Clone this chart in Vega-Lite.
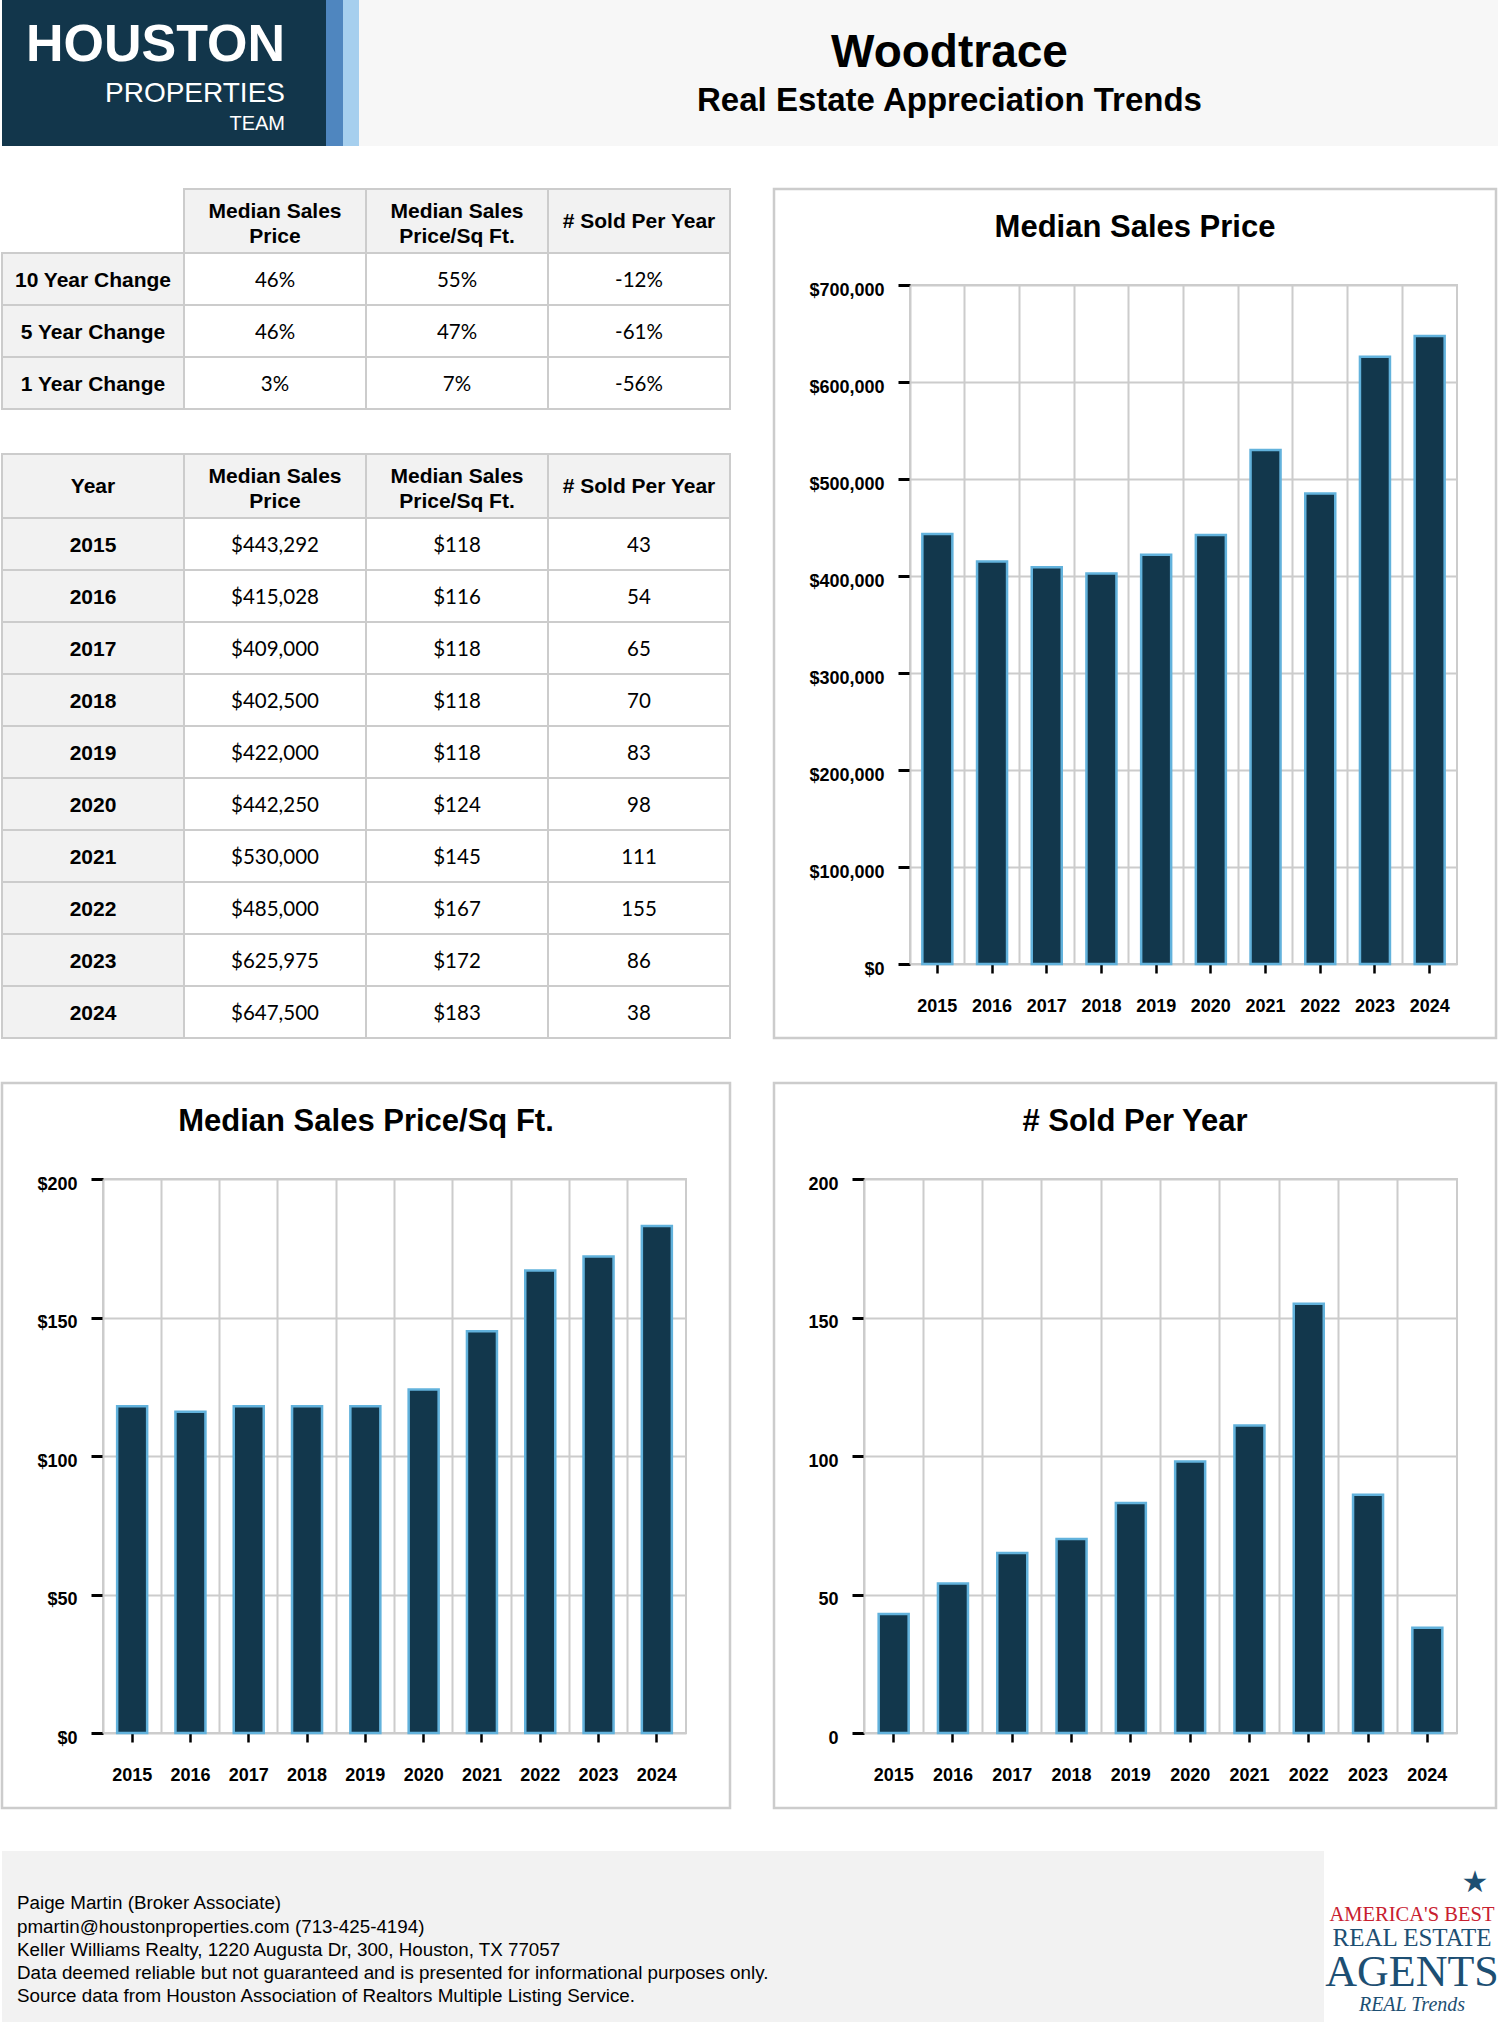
{
 "$schema": "https://vega.github.io/schema/vega-lite/v6.json",
 "padding": 0,
 "background": "#ffffff",
 "spacing": 41,
 "config": {
  "view": {"stroke": null},
  "font": "Liberation Sans",
  "axis": {"labelFont": "Liberation Sans", "labelFontSize": 18, "labelFontWeight": "bold", "labelColor": "#000000", "tickColor": "#000000", "gridColor": "#cccccc", "gridWidth": 2, "labelFlush": false, "labelOverlap": false, "domain": false}
 },
 "datasets": {
  "yearly": [
   {"Year": 2015, "price": 443292, "ppsf": 118, "sold": 43},
   {"Year": 2016, "price": 415028, "ppsf": 116, "sold": 54},
   {"Year": 2017, "price": 409000, "ppsf": 118, "sold": 65},
   {"Year": 2018, "price": 402500, "ppsf": 118, "sold": 70},
   {"Year": 2019, "price": 422000, "ppsf": 118, "sold": 83},
   {"Year": 2020, "price": 442250, "ppsf": 124, "sold": 98},
   {"Year": 2021, "price": 530000, "ppsf": 145, "sold": 111},
   {"Year": 2022, "price": 485000, "ppsf": 167, "sold": 155},
   {"Year": 2023, "price": 625975, "ppsf": 172, "sold": 86},
   {"Year": 2024, "price": 647500, "ppsf": 183, "sold": 38}
  ],
  "changes": [
   {"period": "10 Year Change", "price": "46%", "ppsf": "55%", "sold": "-12%"},
   {"period": "5 Year Change", "price": "46%", "ppsf": "47%", "sold": "-61%"},
   {"period": "1 Year Change", "price": "3%", "ppsf": "7%", "sold": "-56%"}
  ],
  "hdr1": [
   {"key": "price", "label": ["Median Sales", "Price"]},
   {"key": "ppsf", "label": ["Median Sales", "Price/Sq Ft."]},
   {"key": "sold", "label": "# Sold Per Year"}
  ],
  "hdr2": [
   {"key": "Year", "label": "Year"},
   {"key": "price", "label": ["Median Sales", "Price"]},
   {"key": "ppsf", "label": ["Median Sales", "Price/Sq Ft."]},
   {"key": "sold", "label": "# Sold Per Year"}
  ]
 },
 "vconcat": [
  {
   "hconcat": [
    {
     "width": 324, "height": 146,
     "view": {"fill": "#12364b", "stroke": null},
     "layer": [
      {"data": {"values": [{"w": "HOUSTON"}]}, "mark": {"type": "text", "font": "Liberation Sans", "fontWeight": "bold", "fontSize": 52, "color": "#ffffff", "align": "right", "baseline": "alphabetic", "dx": 121, "dy": -12}, "encoding": {"text": {"field": "w"}}},
      {"data": {"values": [{"w": "PROPERTIES"}]}, "mark": {"type": "text", "font": "Liberation Sans", "fontWeight": "normal", "fontSize": 28, "color": "#ffffff", "align": "right", "baseline": "alphabetic", "dx": 121, "dy": 29}, "encoding": {"text": {"field": "w"}}},
      {"data": {"values": [{"w": "TEAM"}]}, "mark": {"type": "text", "font": "Liberation Sans", "fontWeight": "normal", "fontSize": 20, "color": "#ffffff", "align": "right", "baseline": "alphabetic", "dx": 121, "dy": 57}, "encoding": {"text": {"field": "w"}}}
     ]
    },
    {"width": 17, "height": 146, "view": {"fill": "#4f86bf", "stroke": null}, "data": {"values": []}, "mark": "point"},
    {"width": 16, "height": 146, "view": {"fill": "#a6cfee", "stroke": null}, "data": {"values": []}, "mark": "point"},
    {"width": 1141, "height": 146, "view": {"fill": "#f7f7f7", "stroke": null}, "data": {"values": []}, "mark": "point",
     "title": {"text": "Woodtrace", "subtitle": "Real Estate Appreciation Trends", "orient": "top", "anchor": "middle", "frame": "group", "baseline": "top", "offset": -119.3, "dx": 20, "font": "Liberation Sans", "fontSize": 46, "fontWeight": "bold", "color": "#000000", "subtitleFont": "Liberation Sans", "subtitleFontSize": 33, "subtitleFontWeight": "bold", "subtitleColor": "#000000", "subtitlePadding": 8.4}}
   ],
   "spacing": 0, "bounds": "flush"
  },
  {
   "hconcat": [
    {
     "vconcat": [
      {
       "width": 728, "height": 64,
       "data": {"name": "hdr1"},
       "encoding": {"x": {"field": "key", "type": "nominal", "scale": {"domain": ["period", "price", "ppsf", "sold"], "paddingInner": 0, "paddingOuter": 0}, "axis": null}},
       "layer": [
        {"mark": {"type": "rect", "fill": "#f2f2f2", "stroke": "#cccccc", "strokeWidth": 2}},
        {"transform": [{"filter": "isArray(datum.label)"}], "mark": {"type": "text", "font": "Liberation Sans", "fontWeight": "bold", "fontSize": 21, "lineHeight": 25.5, "baseline": "middle", "dy": -9.5, "color": "#000000"}, "encoding": {"text": {"field": "label"}}},
        {"transform": [{"filter": "!isArray(datum.label)"}], "mark": {"type": "text", "font": "Liberation Sans", "fontWeight": "bold", "fontSize": 21, "baseline": "middle", "dy": 1.3, "color": "#000000"}, "encoding": {"text": {"field": "label"}}}
       ]
      },
      {
       "width": 728, "height": 156,
       "data": {"name": "changes"},
       "transform": [{"fold": ["period", "price", "ppsf", "sold"], "as": ["key", "value"]}],
       "encoding": {
        "x": {"field": "key", "type": "nominal", "scale": {"domain": ["period", "price", "ppsf", "sold"], "paddingInner": 0, "paddingOuter": 0}, "axis": null},
        "y": {"field": "period", "type": "nominal", "scale": {"domain": ["10 Year Change", "5 Year Change", "1 Year Change"], "paddingInner": 0, "paddingOuter": 0}, "axis": null}
       },
       "layer": [
        {"mark": {"type": "rect", "stroke": "#cccccc", "strokeWidth": 2}, "encoding": {"fill": {"condition": {"test": "datum.key === 'period'", "value": "#f2f2f2"}, "value": "#ffffff"}}},
        {"transform": [{"filter": "datum.key === 'period'"}], "mark": {"type": "text", "font": "Liberation Sans", "fontWeight": "bold", "fontSize": 21, "dy": 2, "color": "#000000"}, "encoding": {"text": {"field": "value"}}},
        {"transform": [{"filter": "datum.key !== 'period'"}], "mark": {"type": "text", "font": "Lato", "fontSize": 20.5, "dy": 2, "color": "#000000"}, "encoding": {"text": {"field": "value"}}}
       ]
      },
      {"width": 728, "height": 45, "data": {"values": []}, "mark": "point"},
      {
       "width": 728, "height": 64,
       "data": {"name": "hdr2"},
       "encoding": {"x": {"field": "key", "type": "nominal", "scale": {"domain": ["Year", "price", "ppsf", "sold"], "paddingInner": 0, "paddingOuter": 0}, "axis": null}},
       "layer": [
        {"mark": {"type": "rect", "fill": "#f2f2f2", "stroke": "#cccccc", "strokeWidth": 2}},
        {"transform": [{"filter": "isArray(datum.label)"}], "mark": {"type": "text", "font": "Liberation Sans", "fontWeight": "bold", "fontSize": 21, "lineHeight": 25.5, "baseline": "middle", "dy": -9.5, "color": "#000000"}, "encoding": {"text": {"field": "label"}}},
        {"transform": [{"filter": "!isArray(datum.label)"}], "mark": {"type": "text", "font": "Liberation Sans", "fontWeight": "bold", "fontSize": 21, "baseline": "middle", "dy": 1.3, "color": "#000000"}, "encoding": {"text": {"field": "label"}}}
       ]
      },
      {
       "width": 728, "height": 520,
       "data": {"name": "yearly"},
       "transform": [
        {"fold": ["Year", "price", "ppsf", "sold"], "as": ["key", "value"]},
        {"calculate": "datum.key === 'Year' ? toString(datum.value) : (datum.key === 'sold' ? format(datum.value, 'd') : format(datum.value, '$,d'))", "as": "txt"}
       ],
       "encoding": {
        "x": {"field": "key", "type": "nominal", "scale": {"domain": ["Year", "price", "ppsf", "sold"], "paddingInner": 0, "paddingOuter": 0}, "axis": null},
        "y": {"field": "Year", "type": "ordinal", "scale": {"paddingInner": 0, "paddingOuter": 0}, "axis": null}
       },
       "layer": [
        {"mark": {"type": "rect", "stroke": "#cccccc", "strokeWidth": 2}, "encoding": {"fill": {"condition": {"test": "datum.key === 'Year'", "value": "#f2f2f2"}, "value": "#ffffff"}}},
        {"transform": [{"filter": "datum.key === 'Year'"}], "mark": {"type": "text", "font": "Liberation Sans", "fontWeight": "bold", "fontSize": 21, "dy": 2, "color": "#000000"}, "encoding": {"text": {"field": "txt"}}},
        {"transform": [{"filter": "datum.key !== 'Year'"}], "mark": {"type": "text", "font": "Lato", "fontSize": 20.5, "dy": 2, "color": "#000000"}, "encoding": {"text": {"field": "txt"}}}
       ]
      }
     ],
     "spacing": 0, "bounds": "flush"
    },
    {
     "concat": [
      {"width": 722, "height": 849, "view": {"stroke": "#cccccc", "strokeWidth": 2.5}, "data": {"values": []}, "mark": "point",
       "title": {"text": "Median Sales Price", "orient": "top", "anchor": "middle", "frame": "group", "baseline": "top", "offset": -54.5, "font": "Liberation Sans", "fontSize": 31, "fontWeight": "bold", "color": "#000000"}},
      {"width": 1, "height": 849, "data": {"values": []}, "mark": "point"},
      {"width": 722, "height": 1, "data": {"values": []}, "mark": "point"},
      {
       "width": 547, "height": 679,
       "view": {"stroke": "#cccccc", "strokeWidth": 2},
       "data": {"name": "yearly"},
       "layer": [
        {"mark": {"type": "rect", "opacity": 0},
         "encoding": {"x": {"field": "Year", "type": "ordinal", "title": null, "scale": {"type": "band", "paddingInner": 0, "paddingOuter": 0},
          "axis": {"orient": "bottom", "grid": true, "bandPosition": 0, "labels": false, "ticks": false, "domain": false}}}},
        {"mark": {"type": "bar", "width": 30, "fill": "#12374c", "stroke": "#62b2dc", "strokeWidth": 2.5},
         "encoding": {
          "x": {"field": "Year", "type": "ordinal", "title": null, "scale": {"type": "band", "paddingInner": 0, "paddingOuter": 0},
           "axis": {"orient": "bottom", "grid": false, "ticks": true, "tickSize": 9, "tickWidth": 2.5, "labelPadding": 24, "labelAngle": 0, "domain": false}},
          "y": {"field": "price", "type": "quantitative", "title": null, "scale": {"domain": [0, 700000], "nice": false},
           "axis": {"values": [0, 100000, 200000, 300000, 400000, 500000, 600000, 700000], "format": "$,d", "grid": true, "tickSize": 12, "tickWidth": 3, "labelPadding": 14, "labelOffset": 5, "domain": false}}
         }}
       ],
       "resolve": {"axis": {"x": "independent"}}
      }
     ],
     "columns": 2,
     "spacing": {"row": -753, "column": -586},
     "bounds": "flush",
     "align": "none"
    }
   ],
   "spacing": 41
  },
  {
   "hconcat": [
    {
     "concat": [
      {"width": 728, "height": 725, "view": {"stroke": "#cccccc", "strokeWidth": 2.5}, "data": {"values": []}, "mark": "point",
       "title": {"text": "Median Sales Price/Sq Ft.", "orient": "top", "anchor": "middle", "frame": "group", "baseline": "top", "offset": -54.5, "font": "Liberation Sans", "fontSize": 31, "fontWeight": "bold", "color": "#000000"}},
      {"width": 1, "height": 725, "data": {"values": []}, "mark": "point"},
      {"width": 728, "height": 1, "data": {"values": []}, "mark": "point"},
      {
       "width": 583, "height": 554,
       "view": {"stroke": "#cccccc", "strokeWidth": 2},
       "data": {"name": "yearly"},
       "layer": [
        {"mark": {"type": "rect", "opacity": 0},
         "encoding": {"x": {"field": "Year", "type": "ordinal", "title": null, "scale": {"type": "band", "paddingInner": 0, "paddingOuter": 0},
          "axis": {"orient": "bottom", "grid": true, "bandPosition": 0, "labels": false, "ticks": false, "domain": false}}}},
        {"mark": {"type": "bar", "width": 30, "fill": "#12374c", "stroke": "#62b2dc", "strokeWidth": 2.5},
         "encoding": {
          "x": {"field": "Year", "type": "ordinal", "title": null, "scale": {"type": "band", "paddingInner": 0, "paddingOuter": 0},
           "axis": {"orient": "bottom", "grid": false, "ticks": true, "tickSize": 9, "tickWidth": 2.5, "labelPadding": 24, "labelAngle": 0, "domain": false}},
          "y": {"field": "ppsf", "type": "quantitative", "title": null, "scale": {"domain": [0, 200], "nice": false},
           "axis": {"values": [0, 50, 100, 150, 200], "format": "$,d", "grid": true, "tickSize": 12, "tickWidth": 3, "labelPadding": 14, "labelOffset": 5, "domain": false}}
         }}
       ],
       "resolve": {"axis": {"x": "independent"}}
      }
     ],
     "columns": 2,
     "spacing": {"row": -629, "column": -627},
     "bounds": "flush",
     "align": "none"
    },
    {
     "concat": [
      {"width": 722, "height": 725, "view": {"stroke": "#cccccc", "strokeWidth": 2.5}, "data": {"values": []}, "mark": "point",
       "title": {"text": "# Sold Per Year", "orient": "top", "anchor": "middle", "frame": "group", "baseline": "top", "offset": -54.5, "font": "Liberation Sans", "fontSize": 31, "fontWeight": "bold", "color": "#000000"}},
      {"width": 1, "height": 725, "data": {"values": []}, "mark": "point"},
      {"width": 722, "height": 1, "data": {"values": []}, "mark": "point"},
      {
       "width": 593, "height": 554,
       "view": {"stroke": "#cccccc", "strokeWidth": 2},
       "data": {"name": "yearly"},
       "layer": [
        {"mark": {"type": "rect", "opacity": 0},
         "encoding": {"x": {"field": "Year", "type": "ordinal", "title": null, "scale": {"type": "band", "paddingInner": 0, "paddingOuter": 0},
          "axis": {"orient": "bottom", "grid": true, "bandPosition": 0, "labels": false, "ticks": false, "domain": false}}}},
        {"mark": {"type": "bar", "width": 30, "fill": "#12374c", "stroke": "#62b2dc", "strokeWidth": 2.5},
         "encoding": {
          "x": {"field": "Year", "type": "ordinal", "title": null, "scale": {"type": "band", "paddingInner": 0, "paddingOuter": 0},
           "axis": {"orient": "bottom", "grid": false, "ticks": true, "tickSize": 9, "tickWidth": 2.5, "labelPadding": 24, "labelAngle": 0, "domain": false}},
          "y": {"field": "sold", "type": "quantitative", "title": null, "scale": {"domain": [0, 200], "nice": false},
           "axis": {"values": [0, 50, 100, 150, 200], "format": "d", "grid": true, "tickSize": 12, "tickWidth": 3, "labelPadding": 14, "labelOffset": 5, "domain": false}}
         }}
       ],
       "resolve": {"axis": {"x": "independent"}}
      }
     ],
     "columns": 2,
     "spacing": {"row": -629, "column": -632},
     "bounds": "flush",
     "align": "none"
    }
   ],
   "spacing": 40
  },
  {
   "hconcat": [
    {"width": 1322, "height": 171, "view": {"fill": "#f2f2f2", "stroke": null}, "data": {"values": []}, "mark": "point",
     "title": {"text": ["Paige Martin (Broker Associate)", "pmartin@houstonproperties.com (713-425-4194)", "Keller Williams Realty, 1220 Augusta Dr, 300, Houston, TX 77057", "Data deemed reliable but not guaranteed and is presented for informational purposes only.", "Source data from Houston Association of Realtors Multiple Listing Service."],
      "orient": "top", "anchor": "start", "frame": "group", "baseline": "top", "offset": -155, "dx": 15, "font": "Liberation Sans", "fontSize": 18.8, "fontWeight": "normal", "lineHeight": 23.2, "color": "#000000"}},
    {
     "width": 176, "height": 171,
     "view": {"fill": "#ffffff", "stroke": null},
     "layer": [
      {"data": {"values": [{"w": "★"}]}, "mark": {"type": "text", "font": "DejaVu Sans", "fontSize": 30, "color": "#1d4f73", "align": "center", "baseline": "middle", "dx": 63, "dy": -54}, "encoding": {"text": {"field": "w"}}},
      {"data": {"values": [{"w": "AMERICA'S BEST"}]}, "mark": {"type": "text", "font": "Liberation Serif", "fontSize": 20.5, "color": "#c8202f", "align": "center", "baseline": "middle", "dy": -22}, "encoding": {"text": {"field": "w"}}},
      {"data": {"values": [{"w": "REAL ESTATE"}]}, "mark": {"type": "text", "font": "Liberation Serif", "fontSize": 25, "color": "#1d4f73", "align": "center", "baseline": "middle", "dy": 1}, "encoding": {"text": {"field": "w"}}},
      {"data": {"values": [{"w": "AGENTS"}]}, "mark": {"type": "text", "font": "Liberation Serif", "fontSize": 44, "color": "#1d4f73", "align": "center", "baseline": "middle", "dy": 36}, "encoding": {"text": {"field": "w"}}},
      {"data": {"values": [{"w": "REAL Trends"}]}, "mark": {"type": "text", "font": "Liberation Serif", "fontStyle": "italic", "fontSize": 20, "color": "#1d4f73", "align": "center", "baseline": "middle", "dy": 68}, "encoding": {"text": {"field": "w"}}}
     ]
    }
   ],
   "spacing": 0, "bounds": "flush"
  }
 ]
}
